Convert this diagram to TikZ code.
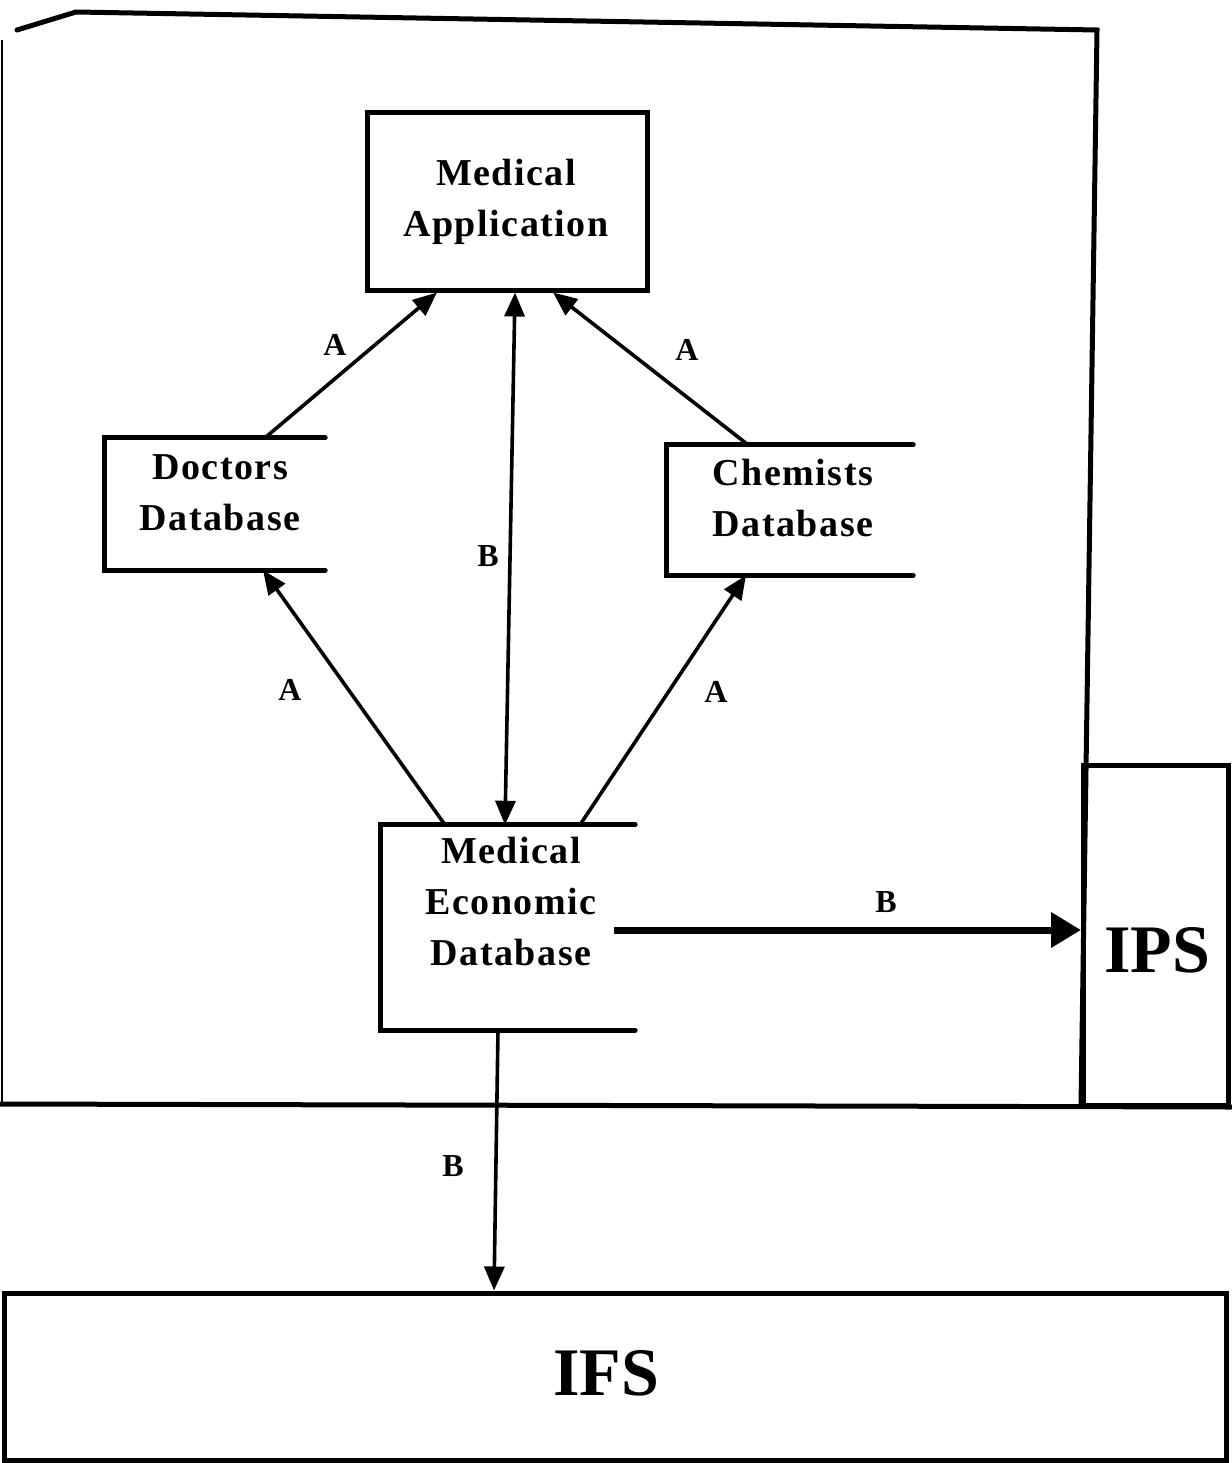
\documentclass[tikz,border=0pt]{standalone}
\usepackage{fontspec}
\setmainfont{Liberation Serif}
\newfontfamily\spacedserif[LetterSpace=4]{Liberation Serif}
\usetikzlibrary{arrows.meta,calc}
\begin{document}
\begin{tikzpicture}[x=1pt,y=-1pt,
  frame/.style={line width=5pt,line cap=round,line join=miter},
  boxed/.style={draw,line width=5pt,inner sep=0pt},
  openbox/.style={inner sep=0pt},
  btxt/.style={font=\spacedserif\fontsize{38}{51}\selectfont\bfseries,align=center,inner sep=0pt},
  big/.style={font=\fontsize{68}{70}\selectfont\bfseries,inner sep=0pt},
  lab/.style={font=\fontsize{32}{34}\selectfont\bfseries,inner sep=0pt},
  conn/.style={line width=3.6pt,-{Triangle[length=24pt,width=20pt]}},
  dconn/.style={line width=3.6pt,{Triangle[length=24pt,width=20pt]}-{Triangle[length=24pt,width=20pt]}},
  thick conn/.style={line width=7pt,-{Triangle[length=30pt,width=34pt]}}]
\useasboundingbox (0,0) rectangle (1231,1463);
% outer frame
\draw[frame] (17,30) -- (76,12) -- (1097,30) -- (1081,1105);
\draw[line width=2.5pt] (2,40) -- (2,1104);
\draw[frame] (0,1104) -- (1231,1107);
% IPS and IFS
\node[boxed,minimum width=145pt,minimum height=340pt] (ips) at (1156,935) {};
\node[big] (ipst) at (1157,950) {IPS};
\node[boxed,minimum width=1222pt,minimum height=167pt] (ifs) at (615,1376.5) {};
\node[big] (ifst) at (606,1373) {IFS};
% medical application
\node[boxed,minimum width=280pt,minimum height=177pt] (app) at (507,201.5) {};
\node[btxt] (appt) at (506,202) {Medical\\Application};
% open boxes
\node[openbox,minimum width=220pt,minimum height=132pt] (doc) at (215,504) {};
\draw[frame] (doc.north east) -- (doc.north west) -- (doc.south west) -- (doc.south east);
\node[btxt] (doct) at (220,493) {Doctors\\Database};
\node[openbox,minimum width=246pt,minimum height=130pt] (chem) at (790,510) {};
\draw[frame] (chem.north east) -- (chem.north west) -- (chem.south west) -- (chem.south east);
\node[btxt] (chemt) at (793,498) {Chemists\\Database};
\node[openbox,minimum width=254pt,minimum height=205pt] (med) at (508,927.5) {};
\draw[frame] (med.north east) -- (med.north west) -- (med.south west) -- (med.south east);
\node[btxt] (medt) at (511,901) {Medical\\Economic\\Database};
% connectors
\draw[conn] ([xshift=50pt]doc.north) -- ([xshift=-70pt]app.south);
\draw[conn] ([xshift=-42pt]chem.north) -- ([xshift=46pt]app.south);
\draw[dconn] ([xshift=8pt]app.south) -- ([xshift=-3pt]med.north);
\draw[conn] ([xshift=-63pt]med.north) -- ([xshift=48pt]doc.south);
\draw[conn] ([xshift=72pt]med.north) -- ([xshift=-44pt]chem.south);
\coordinate (mstart) at ([xshift=-21pt,yshift=-2.5pt]med.east);
\draw[thick conn] (mstart) -- (mstart -| ips.west);
\draw[conn] ([xshift=-10pt]med.south) -- ([xshift=-121pt]ifs.north);
% labels
\node[lab] (l1) at (335,345) {A};
\node[lab] (l2) at (687,350) {A};
\node[lab] (l3) at (488,556) {B};
\node[lab] (l4) at (290,690) {A};
\node[lab] (l5) at (716,692) {A};
\node[lab] (l6) at (886,902) {B};
\node[lab] (l7) at (453,1166) {B};
\end{tikzpicture}
\end{document}
